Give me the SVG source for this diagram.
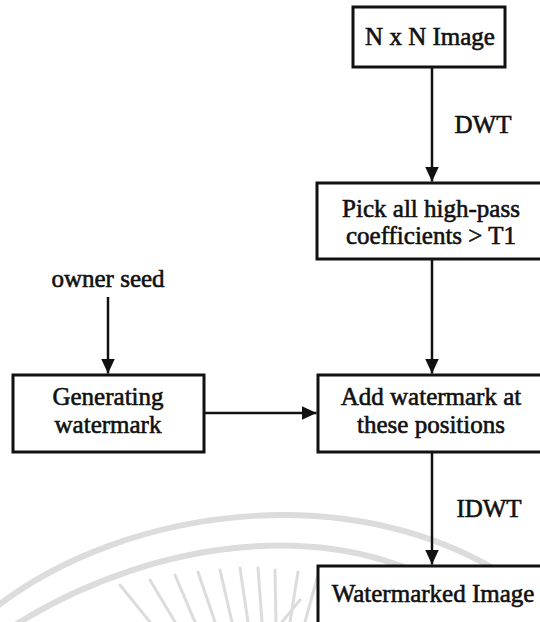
<svg xmlns="http://www.w3.org/2000/svg" width="540" height="622" viewBox="0 0 540 622">
  <style>
    .box { fill: #ffffff; stroke: #111111; stroke-width: 3; }
    .lbl { font-family: "Liberation Serif", "Times New Roman", serif; font-size: 25px; fill: #111111; stroke: #111111; stroke-width: 0.6; text-anchor: middle; }
    .edge { fill: none; stroke: #111111; stroke-width: 2.5; marker-end: url(#arrow); }
    .wm { fill: none; stroke: #dcdcdc; stroke-linecap: round; }
  </style>
  <defs>
    <marker id="arrow" markerUnits="userSpaceOnUse" markerWidth="16" markerHeight="14" refX="15" refY="7" orient="auto">
      <path d="M0,0 L15,7 L0,14 z" fill="#111111"/>
    </marker>
  </defs>
  <rect width="540" height="622" fill="#ffffff"/>

  <g id="background-watermark">
    <path class="wm" stroke-width="6" d="M -10,612 C 120,505 380,465 545,605"/>
    <path class="wm" stroke-width="6" d="M 15,625 C 150,540 360,500 500,625"/>
    <g stroke-width="3" class="wm">
      <line x1="120" y1="585" x2="150" y2="622"/>
      <line x1="150" y1="580" x2="175" y2="622"/>
      <line x1="175" y1="575" x2="195" y2="622"/>
      <line x1="198" y1="572" x2="215" y2="622"/>
      <line x1="220" y1="570" x2="232" y2="622"/>
      <line x1="240" y1="568" x2="248" y2="622"/>
      <line x1="258" y1="568" x2="262" y2="622"/>
      <line x1="275" y1="570" x2="276" y2="622"/>
      <line x1="298" y1="572" x2="290" y2="622"/>
      <line x1="318" y1="575" x2="305" y2="622"/>
      <line x1="300" y1="600" x2="282" y2="622"/>
    </g>
  </g>

  <g id="connectors">
    <line class="edge" x1="432" y1="67" x2="432" y2="181.5"/>
    <line class="edge" x1="432" y1="259" x2="432" y2="373.5"/>
    <line class="edge" x1="108" y1="297" x2="108" y2="373.5"/>
    <line class="edge" x1="204" y1="413" x2="316.5" y2="413"/>
    <line class="edge" x1="432" y1="452" x2="432" y2="564.5"/>
    <text class="lbl" x="483" y="133">DWT</text>
    <text class="lbl" x="489" y="517">IDWT</text>
  </g>

  <g id="node-input">
    <rect class="box" x="353" y="7" width="152" height="60"/>
    <text class="lbl" x="430" y="45">N x N Image</text>
  </g>

  <g id="node-pick">
    <rect class="box" x="317" y="183" width="230" height="76"/>
    <text class="lbl" x="431" y="217">Pick all high-pass</text>
    <text class="lbl" x="431" y="244">coefficients &gt; T1</text>
  </g>

  <g id="node-seed">
    <text class="lbl" x="108" y="287">owner seed</text>
  </g>

  <g id="node-generate">
    <rect class="box" x="13" y="375" width="191" height="77"/>
    <text class="lbl" x="108" y="405">Generating</text>
    <text class="lbl" x="108" y="433">watermark</text>
  </g>

  <g id="node-add">
    <rect class="box" x="318" y="375" width="229" height="77"/>
    <text class="lbl" x="431" y="405">Add watermark at</text>
    <text class="lbl" x="431" y="433">these positions</text>
  </g>

  <g id="node-output">
    <rect class="box" x="318" y="566" width="229" height="70"/>
    <text class="lbl" x="433" y="602">Watermarked Image</text>
  </g>
</svg>
